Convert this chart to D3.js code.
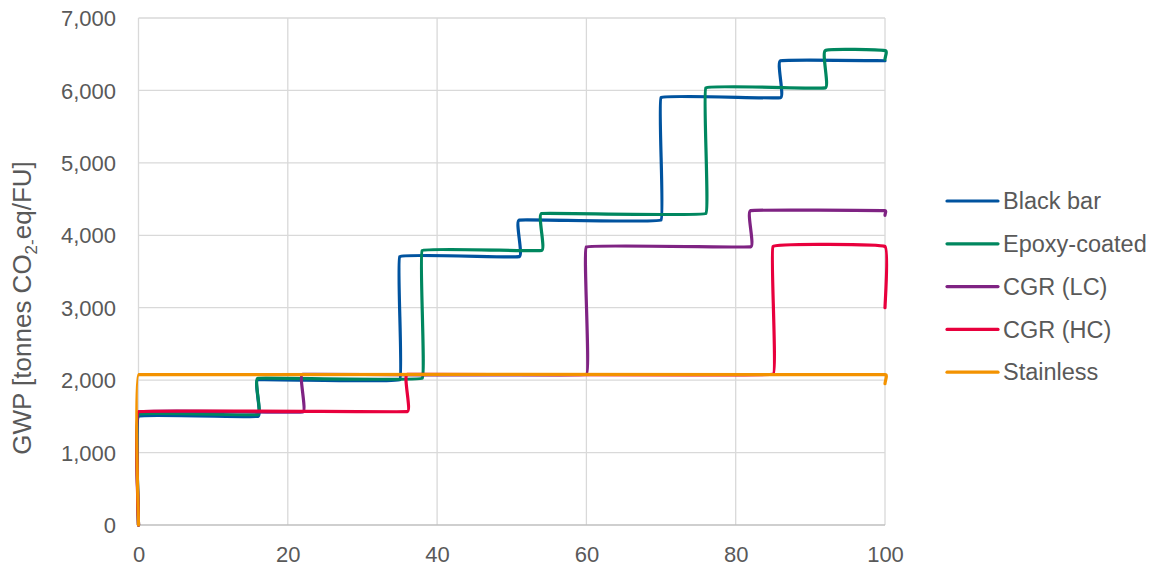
<!DOCTYPE html>
<html><head><meta charset="utf-8">
<script src="https://cdn.jsdelivr.net/npm/d3@7"></script>
<style>
html,body{margin:0;padding:0;background:#fff;}
svg{display:block;font-family:"Liberation Sans",Arial,sans-serif;}
</style></head>
<body><svg id="chart" width="1157" height="571"></svg>
<script>
// ---- data ----
const seriesNames = ["Black bar", "Epoxy-coated", "CGR (LC)", "CGR (HC)", "Stainless"];
const seriesColors = ["#00539F", "#00875F", "#7F2383", "#E8003D", "#F39200"];
// step positions (years) and the cumulative GWP level reached at each step
const blackSteps = [0, 16, 35, 51, 70, 86];
const blackValues = [1500, 2005, 3705, 4210, 5900, 6410];
const blackEnd = 6410;
const epoxySteps = [0, 16, 38, 54, 76, 92];
const epoxyValues = [1525, 2025, 3790, 4300, 6035, 6550];
const epoxyEnd = 6430;
const lcSteps = [0, 22, 60, 82];
const lcValues = [1560, 2080, 3840, 4340];
const lcEnd = 4275;
const hcSteps = [0, 36, 85];
const hcValues = [1565, 2080, 3845];
const hcEnd = 3000;
const stSteps = [0];
const stValues = [2075];
const stEnd = 1950;
const xTicks = [0, 20, 40, 60, 80, 100];
const yTicks = [0, 1000, 2000, 3000, 4000, 5000, 6000, 7000];

const stepsList = [blackSteps, epoxySteps, lcSteps, hcSteps, stSteps];
const valuesList = [blackValues, epoxyValues, lcValues, hcValues, stValues];
const endList = [blackEnd, epoxyEnd, lcEnd, hcEnd, stEnd];

function buildPoints(steps, values, end) {
  const pts = [[0, 0]];
  steps.forEach((s, i) => {
    if (i > 0) pts.push([s, values[i - 1]]);
    pts.push([s, values[i]]);
  });
  pts.push([100, values[values.length - 1]]);
  if (end !== values[values.length - 1]) pts.push([100, end]);
  return pts;
}

// Excel-like smoothed line: cubic Bezier with tangents along (P[i+1]-P[i-1]) but short handles
function SmoothCurve(context) { this._context = context; }
SmoothCurve.prototype = {
  areaStart() {}, areaEnd() {},
  lineStart() { this._pts = []; },
  point(px, py) { this._pts.push([+px, +py]); },
  lineEnd() {
    const p = this._pts, n = p.length, c = this._context;
    if (!n) return;
    c.moveTo(p[0][0], p[0][1]);
    if (n === 1) return;
    const dir = p.map((q, i) => {
      const a = p[Math.max(0, i - 1)], b = p[Math.min(n - 1, i + 1)];
      let dx = b[0] - a[0], dy = b[1] - a[1];
      const l = Math.hypot(dx, dy) || 1;
      return [dx / l, dy / l];
    });
    for (let i = 0; i < n - 1; i++) {
      const a = p[i], b = p[i + 1];
      const seg = Math.hypot(b[0] - a[0], b[1] - a[1]);
      const h = Math.min(seg / 3, 4.5);
      c.bezierCurveTo(a[0] + dir[i][0] * h, a[1] + dir[i][1] * h,
                      b[0] - dir[i + 1][0] * h, b[1] - dir[i + 1][1] * h,
                      b[0], b[1]);
    }
  }
};
const smoothCurve = ctx => new SmoothCurve(ctx);

// ---- layout ----
const svg = d3.select("#chart");
const L = 138.5, R = 885, T = 18, B = 525;
const x = d3.scaleLinear().domain([0, 100]).range([L, R]);
const y = d3.scaleLinear().domain([0, 7000]).range([B, T]);
const textCol = "#595959";
const fontFam = "Liberation Sans, Arial, sans-serif";

// gridlines
svg.append("g").selectAll("line").data(yTicks.filter(d => d > 0)).join("line")
  .attr("x1", L).attr("x2", R).attr("y1", d => y(d)).attr("y2", d => y(d))
  .attr("stroke", "#D9D9D9").attr("stroke-width", 1.3);
svg.append("g").selectAll("line").data(xTicks).join("line")
  .attr("x1", d => x(d)).attr("x2", d => x(d)).attr("y1", T).attr("y2", B)
  .attr("stroke", "#D9D9D9").attr("stroke-width", 1.3);
svg.append("line").attr("x1", L).attr("x2", R).attr("y1", B).attr("y2", B)
  .attr("stroke", "#BFBFBF").attr("stroke-width", 1.3);

// axes (labels only)
const yAxis = d3.axisLeft(y).tickValues(yTicks).tickFormat(d3.format(",")).tickSize(0).tickPadding(0);
const gy = svg.append("g").attr("transform", `translate(116,0)`).call(yAxis);
gy.select(".domain").remove();
gy.selectAll("text").attr("font-size", 22).attr("fill", textCol).attr("font-family", fontFam).attr("dy", "0.35em");

const xAxis = d3.axisBottom(x).tickValues(xTicks).tickFormat(d3.format("d")).tickSize(0).tickPadding(0);
const gx = svg.append("g").attr("transform", `translate(0,554)`).call(xAxis);
gx.select(".domain").remove();
gx.selectAll("text").attr("font-size", 22).attr("fill", textCol).attr("font-family", fontFam).attr("dy", "0.35em");

// y axis title
const title = svg.append("text")
  .attr("transform", "translate(31,308) rotate(-90)")
  .attr("text-anchor", "middle").attr("font-size", 26).attr("fill", textCol);
title.append("tspan").text("GWP [tonnes CO");
title.append("tspan").text("2-").attr("font-size", 17).attr("dy", 6);
title.append("tspan").text("eq/FU]").attr("dy", -6);

// lines
const line = d3.line().x(d => x(d[0])).y(d => y(d[1])).curve(smoothCurve);
const gLines = svg.append("g");
seriesNames.forEach((n, i) => {
  gLines.append("path")
    .attr("d", line(buildPoints(stepsList[i], valuesList[i], endList[i])))
    .attr("fill", "none").attr("stroke", seriesColors[i])
    .attr("stroke-width", 3.2).attr("stroke-linejoin", "round").attr("stroke-linecap", "round");
});

// legend
const lg = svg.append("g");
seriesNames.forEach((n, i) => {
  const yy = 201 + i * 42.8;
  lg.append("line").attr("x1", 947).attr("x2", 998).attr("y1", yy).attr("y2", yy)
    .attr("stroke", seriesColors[i]).attr("stroke-width", 3.2).attr("stroke-linecap", "round");
  lg.append("text").attr("x", 1003).attr("y", yy).attr("dy", "0.35em")
    .attr("font-size", 23.5).attr("fill", textCol).text(n);
});
</script></body></html>
